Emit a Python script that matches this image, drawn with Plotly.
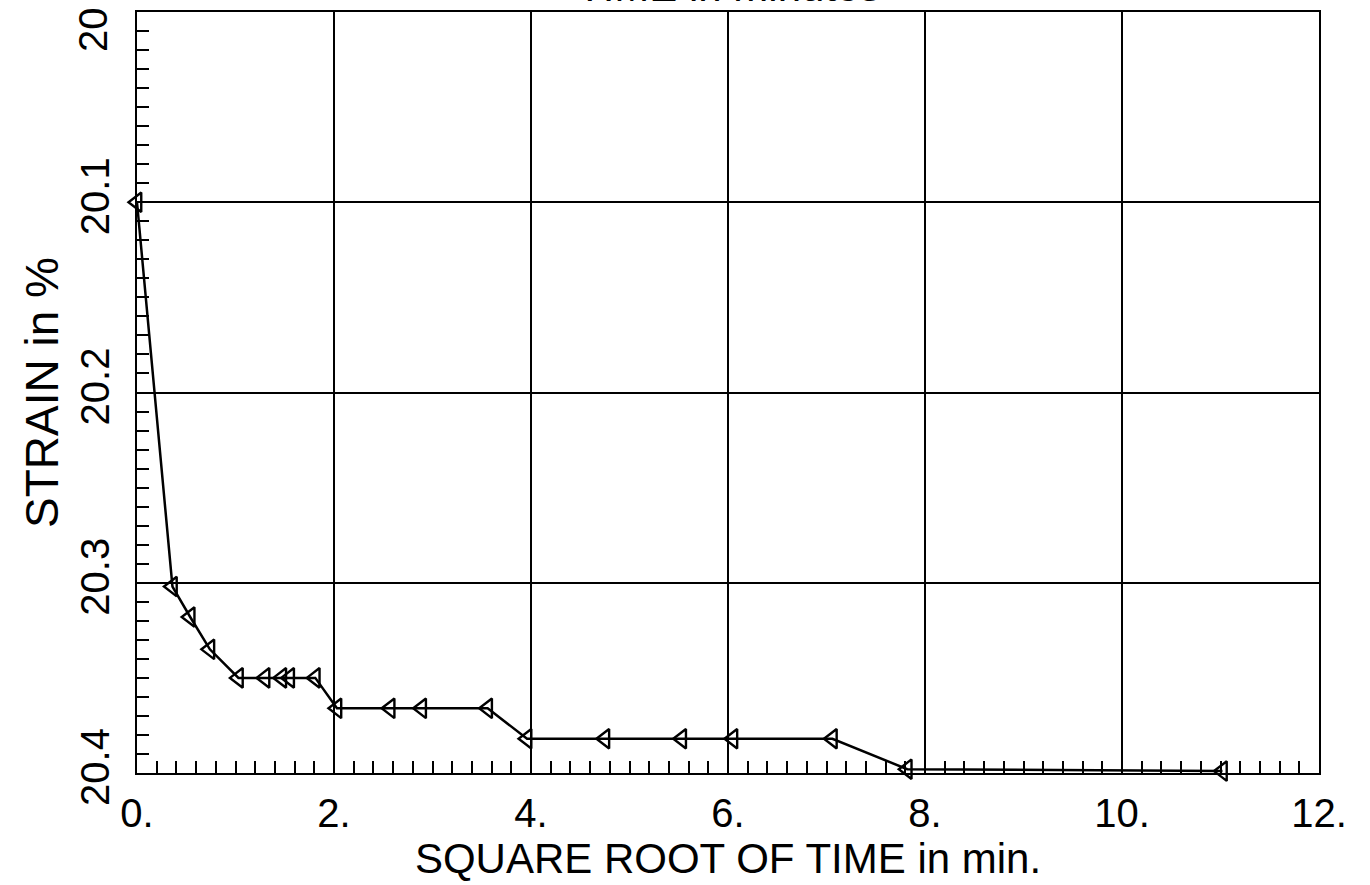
import plotly.graph_objects as go

# square root of time (min^0.5) and strain (%)
sqrt_time = [0.0, 0.36, 0.54, 0.74, 1.03, 1.30, 1.47, 1.55, 1.81, 2.03,
             2.57, 2.89, 3.56, 3.96, 4.75, 5.53, 6.05, 7.06, 7.82, 11.02]
strain = [20.100, 20.302, 20.318, 20.335, 20.350, 20.350, 20.350, 20.350, 20.350, 20.366,
          20.366, 20.366, 20.366, 20.382, 20.382, 20.382, 20.382, 20.382, 20.398, 20.399]

x_ticks = [0, 2, 4, 6, 8, 10, 12]
x_labels = ["0.", "2.", "4.", "6.", "8.", "10.", "12."]
y_ticks = [20.0, 20.1, 20.2, 20.3, 20.4]
y_labels = ["", "20.1", "20.2", "20.3", "20.4"]
top_label = "20"

FONT = "Liberation Sans, Arial, sans-serif"

fig = go.Figure()
fig.add_trace(go.Scatter(
    x=sqrt_time, y=strain,
    mode="lines+markers",
    line=dict(color="black", width=2.5),
    marker=dict(symbol="triangle-left-open", size=17, color="black",
                line=dict(color="black", width=2.4)),
    showlegend=False, hoverinfo="skip", cliponaxis=False
))

# top title, mostly cut off by the page edge as in the scan
fig.add_annotation(text="TIME in minutes", xref="paper", yref="paper",
                   x=0.5, y=1, yanchor="bottom", yshift=0, showarrow=False,
                   font=dict(family=FONT, size=42, color="black"))

# the "20" label at the top corner sits pushed down inside the page
fig.add_annotation(text=top_label, xref="paper", yref="y", x=0, y=y_ticks[0],
                   xanchor="right", yanchor="middle", xshift=-20, yshift=-18,
                   textangle=-90, showarrow=False,
                   font=dict(family=FONT, size=40, color="black"))

axis_common = dict(
    showline=True, linecolor="black", linewidth=2, mirror=True,
    showgrid=True, gridcolor="black", gridwidth=1.6,
    zeroline=False, ticks="inside", ticklen=12, tickcolor="black", tickwidth=2,
    tickfont=dict(family=FONT, size=40, color="black"),
    automargin=False, ticklabeloverflow="allow",
)

fig.update_xaxes(
    range=[0, 12], tickvals=x_ticks, ticktext=x_labels,
    minor=dict(dtick=0.2, ticks="inside", ticklen=12, tickcolor="black", tickwidth=2, showgrid=False),
    title=dict(text="SQUARE ROOT OF TIME in min.", font=dict(family=FONT, size=42, color="black"),
               standoff=0),
    ticklabelstandoff=4,
    **axis_common
)
fig.update_yaxes(
    range=[20.4, 20.0], tickvals=y_ticks, ticktext=y_labels, tickangle=-90,
    minor=dict(dtick=0.01, ticks="inside", ticklen=12, tickcolor="black", tickwidth=2, showgrid=False),
    title=dict(text="STRAIN in %", font=dict(family=FONT, size=46, color="black"),
               standoff=0),
    ticklabelstandoff=10,
    **axis_common
)

fig.update_layout(
    width=1370, height=885,
    margin=dict(l=137, r=51, t=12, b=112),
    plot_bgcolor="white", paper_bgcolor="white",
)

# drop the default page margin so the figure fills the window exactly
fig.write_html("out.html", config={"displayModeBar": False},
               post_script="document.body.style.margin='0';")
